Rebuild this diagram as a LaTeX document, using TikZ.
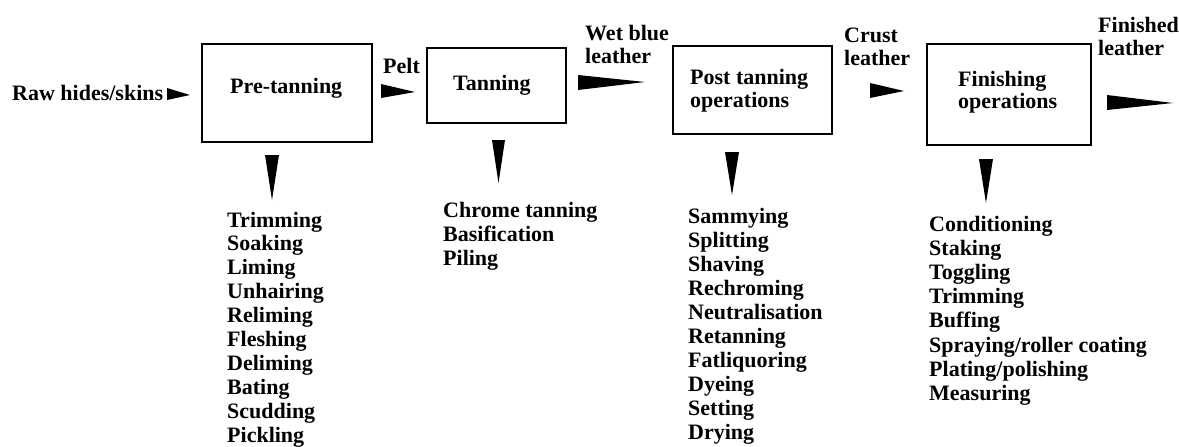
\documentclass[tikz,border=0pt]{standalone}
\usepackage{fontspec}
\setmainfont{Liberation Serif}
\usetikzlibrary{calc}
\newcommand\rwedge[3]{\fill[wedgefill] ($(#1)+(0,-#3)$) -- (#2) -- ($(#1)+(0,#3)$) -- cycle;}
\newcommand\dwedge[3]{\fill[wedgefill] ($(#1)+(-#3,0)$) -- (#2) -- ($(#1)+(#3,0)$) -- cycle;}
\begin{document}
\begin{tikzpicture}[x=1pt,y=-1pt,
  box/.style={draw,line width=1.5pt,inner sep=0pt},
  txt/.style={font=\fontsize{22}{24}\selectfont\bfseries,inner sep=0pt,anchor=base west},
  wedgefill/.style={fill=black,draw=none}]
\useasboundingbox (0,0) rectangle (1179,447);
% boxes
\node[box,minimum width=170pt,minimum height=98pt] (pre) at (287,93) {};
\node[box,minimum width=139pt,minimum height=75pt] (tan) at (496.5,85.5) {};
\node[box,minimum width=159pt,minimum height=88pt] (post) at (752.5,90) {};
\node[box,minimum width=164pt,minimum height=101pt] (fin) at (1009,94.5) {};
% box texts
\node[txt] (preT) at (230,93) {Pre-tanning};
\node[txt] (tanT) at (453,90) {Tanning};
\node[txt] (postT1) at (690,84) {Post tanning};
\node[txt] (postT2) at (690,107) {operations};
\node[txt] (finT1) at (958,86) {Finishing};
\node[txt] (finT2) at (958,108) {operations};
% flow labels
\node[txt] (raw) at (12,100) {Raw hides/skins};
\node[txt] (pelt) at (383,73) {Pelt};
\node[txt] (wb1) at (585,40) {Wet blue};
\node[txt] (wb2) at (585,63) {leather};
\node[txt] (cr1) at (844,42) {Crust};
\node[txt] (cr2) at (844,65) {leather};
\node[txt] (fl1) at (1098,32) {Finished};
\node[txt] (fl2) at (1098,56) {leather};
% wedge coordinates
\coordinate (rawA) at (167,94);   \coordinate (rawB) at (190,95);
\coordinate (peltA) at (381,91);  \coordinate (peltB) at (415,92);
\coordinate (wbA) at (578,82.5);  \coordinate (wbB) at (645,82);
\coordinate (crA) at (870,90.5);  \coordinate (crB) at (904,91);
\coordinate (flA) at (1107,102.5);\coordinate (flB) at (1173,103);
\coordinate (preA) at (272,155);  \coordinate (preB) at (272,200);
\coordinate (tanA) at (498.5,140);\coordinate (tanB) at (498.5,183);
\coordinate (postA) at (732,152); \coordinate (postB) at (732,195);
\coordinate (finA) at (986,159);  \coordinate (finB) at (986,203);
\rwedge{rawA}{rawB}{6}
\rwedge{peltA}{peltB}{7}
\rwedge{wbA}{wbB}{7.5}
\rwedge{crA}{crB}{7.5}
\rwedge{flA}{flB}{7.5}
\dwedge{preA}{preB}{7}
\dwedge{tanA}{tanB}{6.5}
\dwedge{postA}{postB}{7}
\dwedge{finA}{finB}{7}
% lists
\foreach \t [count=\i] in {Trimming,Soaking,Liming,Unhairing,Reliming,Fleshing,Deliming,Bating,Scudding,Pickling}
  \node[txt] (pl\i) at (227,{227+23.9*(\i-1)}) {\t};
\foreach \t [count=\i] in {Chrome tanning,Basification,Piling}
  \node[txt] (tl\i) at (443,{217+24.3*(\i-1)}) {\t};
\foreach \t [count=\i] in {Sammying,Splitting,Shaving,Rechroming,Neutralisation,Retanning,Fatliquoring,Dyeing,Setting,Drying}
  \node[txt] (ol\i) at (688,{223+24*(\i-1)}) {\t};
\foreach \t [count=\i] in {Conditioning,Staking,Toggling,Trimming,Buffing,Spraying/roller coating,Plating/polishing,Measuring}
  \node[txt] (fl\i) at (929,{231+24.2*(\i-1)}) {\t};
\end{tikzpicture}
\end{document}
